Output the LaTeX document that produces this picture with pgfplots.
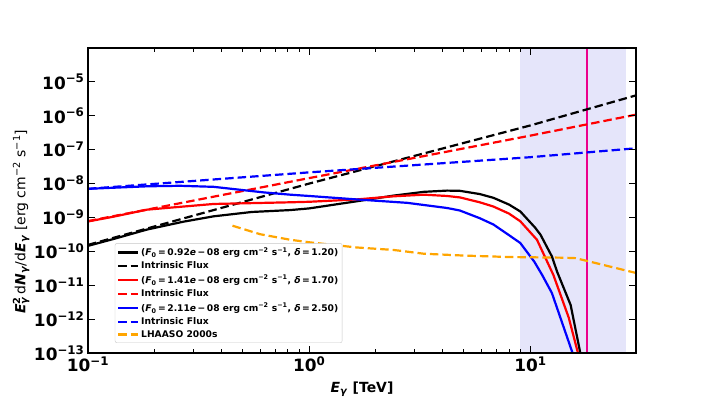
\documentclass[border=0pt]{standalone}
\usepackage{pgfplots}
\pgfplotsset{compat=1.18}
\usepackage{fontspec}
\setmainfont{DejaVu Sans}
\definecolor{mplorange}{RGB}{255,165,0}
\definecolor{spanblue}{RGB}{229,229,250}
\newcommand{\sbs}[1]{\textsubscript{#1}}
\newcommand{\sps}[1]{\textsuperscript{#1}}
\begin{document}
\begin{tikzpicture}
\useasboundingbox (-88bp,-51bp) rectangle (618bp,353bp);
\begin{axis}[
  at={(0,0)}, anchor=south west,
  scale only axis, width=548bp, height=305bp,
  xmode=log, ymode=log,
  xmin=0.1, xmax=30, ymin=1e-13, ymax=1e-4,
  axis on top,
  axis line style={line width=1.4bp},
  tick align=inside,
  major tick length=7bp, minor tick length=4bp,
  every tick/.style={black, line width=0.9bp},
  yminorticks=false,
  xtick={0.1,1,10},
  xticklabels={10\sps{−1},10\sps{0},10\sps{1}},
  ytick={1e-13,1e-12,1e-11,1e-10,1e-9,1e-8,1e-7,1e-6,1e-5},
  yticklabels={10\sps{−13},10\sps{−12},10\sps{−11},10\sps{−10},10\sps{−9},10\sps{−8},10\sps{−7},10\sps{−6},10\sps{−5}},
  tick label style={font=\fontsize{17}{17}\selectfont\bfseries},
  xlabel={\textit{E}\sbs{\textit{γ}} [TeV]},
  xlabel style={font=\fontsize{14}{14}\selectfont\bfseries, at={(axis description cs:0.5,-0.118)}, anchor=center},
  ylabel={\textbf{\textit{E}}\rlap{\sps{\textbf{2}}}\sbs{\textbf{\textit{γ}}}\,d\textbf{\textit{N}}\sbs{\textbf{\textit{γ}}}/d\textbf{\textit{E}}\sbs{\textbf{\textit{γ}}} [erg cm\sps{−2} s\sps{−1}]},
  ylabel style={font=\fontsize{14}{14}\selectfont, at={(axis description cs:-0.122,0.43)}, anchor=center},
  legend style={at={(axis description cs:0.049,0.033)}, anchor=south west,
    font=\fontsize{9.2}{9.2}\selectfont\bfseries, draw=black!22, rounded corners=2pt,
    row sep=0.6bp, inner xsep=2bp, inner ysep=2bp},
  legend cell align=left,
  legend image code/.code={\draw[#1] (0bp,0bp) -- (20bp,0bp);},
]
% shaded band and marker line
\addplot[fill=spanblue, draw=none, forget plot] coordinates {(9,1e-13) (9,1e-4) (27,1e-4) (27,1e-13)};
\addplot[magenta, line width=2bp, forget plot] coordinates {(18,1e-13) (18,1e-4)};

% black solid
\addplot[black, line width=2.2bp] coordinates {
(0.1,1.45e-10) (0.13,2.3e-10) (0.185,4.4e-10) (0.27,7.5e-10) (0.37,1.08e-9) (0.55,1.45e-9)
(0.82,1.65e-9) (1.0,1.85e-9) (1.64,3.0e-9) (2.4,4.4e-9) (3.3,5.7e-9) (4.2,6.2e-9) (4.8,6.1e-9)
(5.9,4.9e-9) (6.8,3.8e-9) (8.0,2.4e-9) (9.0,1.5e-9) (10.5,5.0e-10) (11.1,3.1e-10)
(12.5,7.1e-11) (13.2,2.5e-11) (15.2,2.6e-12) (16.8,1e-13) (17.3,1e-14)};
\addlegendentry{(\textit{F}\sbs{0}\,=\,0.92\textit{e}\,−\,08 erg cm\sps{−2} s\sps{−1}, \textit{δ}\,=\,1.20)}
% black dashed
\addplot[black, line width=2.2bp, dash pattern=on 8.5bp off 4bp] coordinates {
(0.1,1.55e-10) (1,1.0e-8) (10,5.2e-7) (30,4.0e-6)};
\addlegendentry{Intrinsic Flux}

% red solid
\addplot[red, line width=2.2bp] coordinates {
(0.1,7.6e-10) (0.13,1.05e-9) (0.185,1.7e-9) (0.37,2.5e-9) (0.82,2.8e-9) (1.0,2.9e-9)
(1.64,3.4e-9) (2.4,4.2e-9) (3.3,4.7e-9) (4.2,4.3e-9) (4.8,3.9e-9) (5.9,2.8e-9) (6.8,2.1e-9)
(8.0,1.3e-9) (9.0,7.7e-10) (10.7,2.2e-10) (12.7,2.0e-11) (14.9,1.1e-12) (16.4,1e-13) (16.9,1e-14)};
\addlegendentry{(\textit{F}\sbs{0}\,=\,1.41\textit{e}\,−\,08 erg cm\sps{−2} s\sps{−1}, \textit{δ}\,=\,1.70)}
% red dashed
\addplot[red, line width=2.2bp, dash pattern=on 8.5bp off 4bp] coordinates {
(0.1,7.8e-10) (1,1.45e-8) (10,2.6e-7) (30,1.08e-6)};
\addlegendentry{Intrinsic Flux}

% blue solid
\addplot[blue, line width=2.2bp] coordinates {
(0.1,7.0e-9) (0.185,8.3e-9) (0.26,8.6e-9) (0.37,8.0e-9) (0.62,5.5e-9) (0.82,4.7e-9)
(1.0,4.3e-9) (1.64,3.4e-9) (2.77,2.7e-9) (4.2,1.9e-9) (4.8,1.6e-9) (5.9,9.5e-10)
(6.8,6.2e-10) (8.0,3.0e-10) (9.0,1.76e-10) (10.4,5.0e-11) (11.3,2.0e-11) (12.5,5.9e-12)
(15.5,1e-13) (16.0,1e-14)};
\addlegendentry{(\textit{F}\sbs{0}\,=\,2.11\textit{e}\,−\,08 erg cm\sps{−2} s\sps{−1}, \textit{δ}\,=\,2.50)}
% blue dashed
\addplot[blue, line width=2.2bp, dash pattern=on 8.5bp off 4bp] coordinates {
(0.1,7.0e-9) (1,2.14e-8) (10,6.0e-8) (30,1.1e-7)};
\addlegendentry{Intrinsic Flux}

% LHAASO
\addplot[mplorange, line width=2.2bp, dash pattern=on 8.5bp off 4bp] coordinates {
(0.45,5.7e-10) (0.6,3.2e-10) (0.82,2.2e-10) (1.0,1.85e-10) (1.64,1.3e-10) (2.4,1.1e-10)
(3.3,8.5e-11) (5,7.5e-11) (8,6.8e-11) (14,6.5e-11) (16,6.3e-11) (18.5,5.0e-11) (30,2.3e-11)};
\addlegendentry{LHAASO 2000s}
\end{axis}
\end{tikzpicture}
\end{document}
